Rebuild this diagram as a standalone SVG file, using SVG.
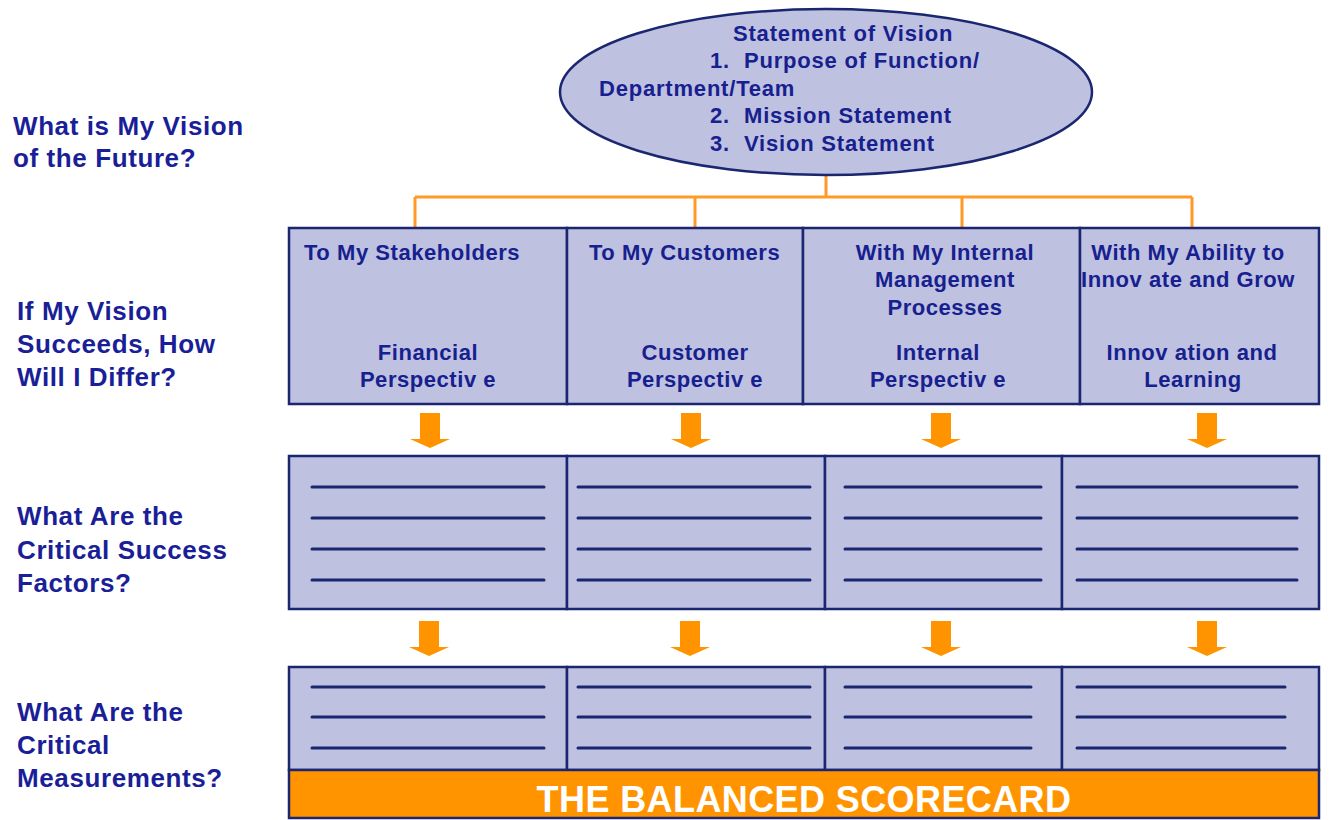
<svg xmlns="http://www.w3.org/2000/svg" xmlns:xlink="http://www.w3.org/1999/xlink" width="1329" height="820" viewBox="0 0 1329 820">
<style>
.cell{fill:#bfc1e0;stroke:#1b2670;stroke-width:2.5}
.ln{stroke:#1b2670;stroke-width:3;stroke-linecap:round}
.t{font-family:"Liberation Sans",Arial,sans-serif;font-weight:bold;fill:#17208f}
.lab{font-size:26px;letter-spacing:0.6px;fill:#1a1f98}
.box{font-size:22px;letter-spacing:0.55px}
.ell{font-size:22px;letter-spacing:0.8px}
.mid{text-anchor:middle}
.tree{fill:none;stroke:#ff9a26;stroke-width:3}
.arr{fill:#ff9400}
</style>
<defs>
<path id="arrow" d="M-10,0 h20 v26 h10 l-20,9 l-20,-9 h10 z"/>
</defs>
<rect width="1329" height="820" fill="#ffffff"/>

<g id="labels">
<text class="t lab" x="13" y="135">What is My Vision</text>
<text class="t lab" x="13" y="167">of the Future?</text>
<text class="t lab" x="17" y="320">If My Vision</text>
<text class="t lab" x="17" y="353">Succeeds, How</text>
<text class="t lab" x="17" y="386">Will I Differ?</text>
<text class="t lab" x="17" y="525">What Are the</text>
<text class="t lab" x="17" y="559">Critical Success</text>
<text class="t lab" x="17" y="592">Factors?</text>
<text class="t lab" x="17" y="721">What Are the</text>
<text class="t lab" x="17" y="754">Critical</text>
<text class="t lab" x="17" y="787">Measurements?</text>
</g>

<g id="connectors">
<path class="tree" d="M826,175 V197 M415,197 H1192 M415,197 V228 M695,197 V228 M962,197 V228 M1192,197 V228"/>
<use href="#arrow" xlink:href="#arrow" class="arr" x="430" y="413"/>
<use href="#arrow" xlink:href="#arrow" class="arr" x="691" y="413"/>
<use href="#arrow" xlink:href="#arrow" class="arr" x="941" y="413"/>
<use href="#arrow" xlink:href="#arrow" class="arr" x="1207" y="413"/>
<use href="#arrow" xlink:href="#arrow" class="arr" x="429" y="621"/>
<use href="#arrow" xlink:href="#arrow" class="arr" x="690" y="621"/>
<use href="#arrow" xlink:href="#arrow" class="arr" x="941" y="621"/>
<use href="#arrow" xlink:href="#arrow" class="arr" x="1207" y="621"/>
</g>

<g id="vision">
<ellipse class="cell" cx="826" cy="92" rx="266" ry="83" stroke-width="2"/>
<text class="t ell" x="733" y="41">Statement of Vision</text>
<text class="t ell" x="710" y="68">1.</text><text class="t ell" x="744" y="68">Purpose of Function/</text>
<text class="t ell" x="599" y="96">Department/Team</text>
<text class="t ell" x="710" y="123">2.</text><text class="t ell" x="744" y="123">Mission Statement</text>
<text class="t ell" x="710" y="151">3.</text><text class="t ell" x="744" y="151">Vision Statement</text>
</g>

<g id="financial">
<rect class="cell" x="289" y="228" width="278" height="176"/>
<text class="t box" x="304" y="260">To My Stakeholders</text>
<text class="t box mid" x="428" y="360">Financial</text>
<text class="t box mid" x="428" y="387">Perspectiv e</text>
</g>
<g id="customer">
<rect class="cell" x="567" y="228" width="236" height="176"/>
<text class="t box" x="589" y="260">To My Customers</text>
<text class="t box mid" x="695" y="360">Customer</text>
<text class="t box mid" x="695" y="387">Perspectiv e</text>
</g>
<g id="internal">
<rect class="cell" x="803" y="228" width="277" height="176"/>
<text class="t box mid" x="945" y="260">With My Internal</text>
<text class="t box mid" x="945" y="287">Management</text>
<text class="t box mid" x="945" y="315">Processes</text>
<text class="t box mid" x="938" y="360">Internal</text>
<text class="t box mid" x="938" y="387">Perspectiv e</text>
</g>
<g id="innovation">
<rect class="cell" x="1080" y="228" width="239" height="176"/>
<text class="t box mid" x="1188" y="260">With My Ability to</text>
<text class="t box mid" x="1188" y="287">Innov ate and Grow</text>
<text class="t box mid" x="1192" y="360">Innov ation and</text>
<text class="t box mid" x="1193" y="387">Learning</text>
</g>

<g id="factors-1">
<rect class="cell" x="289" y="456" width="278" height="153"/>
<path class="ln" d="M312,487 H544 M312,518 H544 M312,549 H544 M312,580 H544"/>
</g>
<g id="factors-2">
<rect class="cell" x="567" y="456" width="258" height="153"/>
<path class="ln" d="M578,487 H810 M578,518 H810 M578,549 H810 M578,580 H810"/>
</g>
<g id="factors-3">
<rect class="cell" x="825" y="456" width="237" height="153"/>
<path class="ln" d="M845,487 H1041 M845,518 H1041 M845,549 H1041 M845,580 H1041"/>
</g>
<g id="factors-4">
<rect class="cell" x="1062" y="456" width="257" height="153"/>
<path class="ln" d="M1077,487 H1297 M1077,518 H1297 M1077,549 H1297 M1077,580 H1297"/>
</g>

<g id="measures-1">
<rect class="cell" x="289" y="667" width="278" height="103"/>
<path class="ln" d="M312,687 H544 M312,717 H544 M312,748 H544"/>
</g>
<g id="measures-2">
<rect class="cell" x="567" y="667" width="258" height="103"/>
<path class="ln" d="M578,687 H810 M578,717 H810 M578,748 H810"/>
</g>
<g id="measures-3">
<rect class="cell" x="825" y="667" width="237" height="103"/>
<path class="ln" d="M845,687 H1031 M845,717 H1031 M845,748 H1031"/>
</g>
<g id="measures-4">
<rect class="cell" x="1062" y="667" width="257" height="103"/>
<path class="ln" d="M1077,687 H1285 M1077,717 H1285 M1077,748 H1285"/>
</g>

<g id="scorecard">
<rect x="289" y="770" width="1030" height="48" fill="#ff9400" stroke="#1b2670" stroke-width="2.5"/>
<text class="t mid" x="804" y="812" font-size="36" letter-spacing="0.4" style="fill:#ffffff">THE BALANCED SCORECARD</text>
</g>
</svg>
